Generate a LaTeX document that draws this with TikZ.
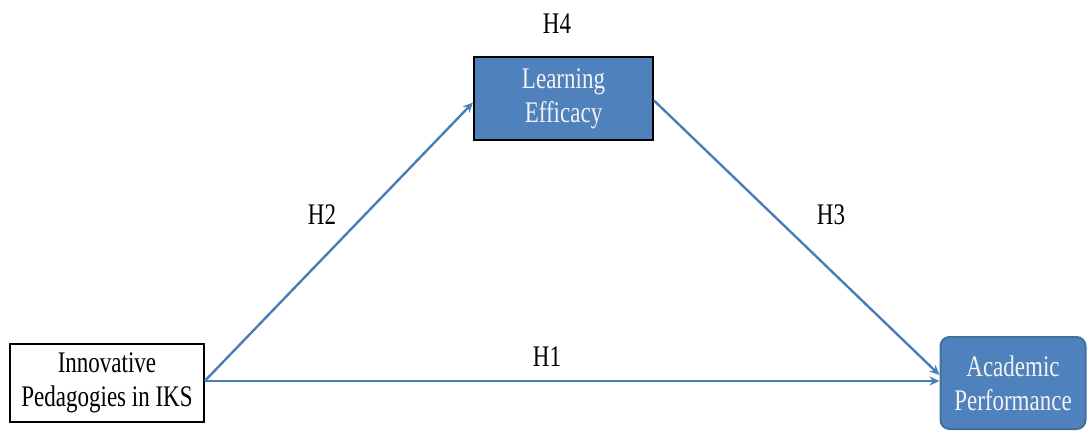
\documentclass[tikz,border=0pt]{standalone}
\usepackage{fontspec}
\setmainfont{Liberation Serif}
\usetikzlibrary{arrows.meta}
\definecolor{boxblue}{HTML}{4F81BD}
\definecolor{edgeblue}{HTML}{41719C}
\definecolor{arrblue}{HTML}{4A7EBB}
\newcommand{\tall}[1]{\scalebox{1}[1.3]{#1}}
\begin{document}
\begin{tikzpicture}[x=1pt,y=-1pt,
  lbl/.style={font=\fontsize{23}{34}\selectfont, inner sep=0pt},
  box/.style={font=\fontsize{23}{34}\selectfont, align=center, inner sep=0pt},
  conn/.style={arrblue, line width=2.4pt, -{Stealth[length=10pt,width=9pt]}}]
\useasboundingbox (0,0) rectangle (1088,432);
\node[box, draw=black, line width=2pt, fill=boxblue, text=white!95!black,
      minimum width=179pt, minimum height=83pt] (le) at (563.5,98.5)
      {\tall{Learning}\\\tall{Efficacy}};
\node[box, draw=black, line width=1.5pt, fill=white,
      minimum width=194pt, minimum height=78pt] (inn) at (107,383)
      {\tall{Innovative}\\\tall{Pedagogies in IKS}};
\node[box, draw=edgeblue, line width=2pt, fill=boxblue, text=white!95!black,
      rounded corners=9pt, minimum width=145pt, minimum height=92pt] (ap) at (1013,383)
      {\tall{Academic}\\\tall{Performance}};
\node[lbl] (h4) at (557,24) {\tall{H4}};
\node[lbl] (h2) at (322,215) {\tall{H2}};
\node[lbl] (h3) at (831,215) {\tall{H3}};
\node[lbl] (h1) at (547,357) {\tall{H1}};
\coordinate (s) at ([yshift=2pt]inn.east);
\draw[conn] (s) -- ([yshift=-4pt]le.west);
\draw[conn] ([yshift=-2pt]le.east) -- ([yshift=8pt]ap.west);
\draw[conn] (s) -- ([yshift=2pt]ap.west);
\end{tikzpicture}
\end{document}
